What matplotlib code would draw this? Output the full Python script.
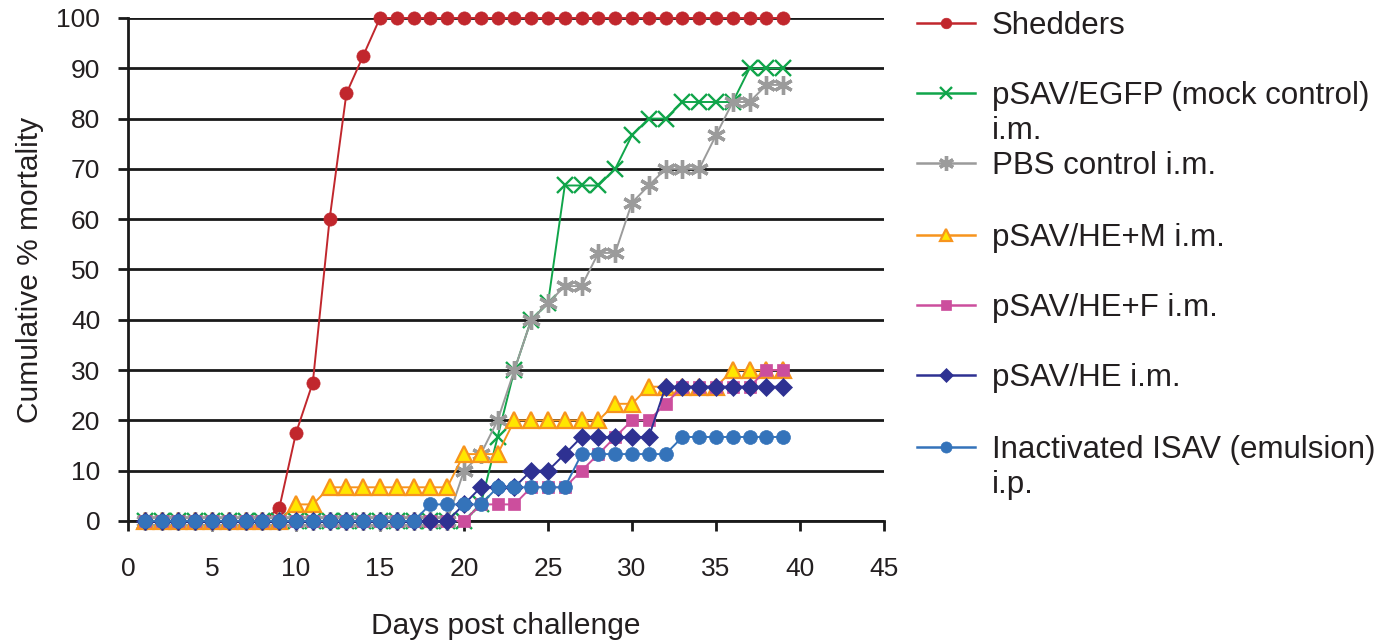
import matplotlib
matplotlib.use("Agg")
import matplotlib.pyplot as plt
from matplotlib.lines import Line2D

plt.rcParams['font.family'] = ['Liberation Sans', 'DejaVu Sans']

days = list(range(1, 40))
labels = ["Shedders", "pSAV/EGFP (mock control)\ni.m.", "PBS control i.m.",
          "pSAV/HE+M i.m.", "pSAV/HE+F i.m.", "pSAV/HE i.m.",
          "Inactivated ISAV (emulsion)\ni.p."]

shedders = [0, 0, 0, 0, 0, 0, 0, 0, 2.5, 17.5, 27.5, 60, 85, 92.5,
            100, 100, 100, 100, 100, 100, 100, 100, 100, 100, 100, 100, 100,
            100, 100, 100, 100, 100, 100, 100, 100, 100, 100, 100, 100]
egfp = [0, 0, 0, 0, 0, 0, 0, 0, 0, 0, 0, 0, 0, 0, 0, 0, 0, 0, 0, 0, 3.3,
        16.7, 30, 40, 43.3, 66.7, 66.7, 66.7, 70, 76.7, 80, 80,
        83.3, 83.3, 83.3, 83.3, 90, 90, 90]
pbs = [0, 0, 0, 0, 0, 0, 0, 0, 0, 0, 0, 0, 0, 0, 0, 0, 0, 0, 0,
       10, 13.3, 20, 30, 40, 43.3, 46.7, 46.7, 53.3, 53.3, 63.3, 66.7,
       70, 70, 70, 76.7, 83.3, 83.3, 86.7, 86.7]
he_m = [0, 0, 0, 0, 0, 0, 0, 0, 0, 3.3, 3.3, 6.7, 6.7, 6.7, 6.7, 6.7, 6.7,
        6.7, 6.7, 13.3, 13.3, 13.3, 20, 20, 20, 20, 20, 20, 23.3, 23.3,
        26.7, 26.7, 26.7, 26.7, 26.7, 30, 30, 30, 30]
he_f = [0, 0, 0, 0, 0, 0, 0, 0, 0, 0, 0, 0, 0, 0, 0, 0, 0, 0, 0, 0,
        3.3, 3.3, 3.3, 6.7, 6.7, 6.7, 10, 13.3, 16.7, 20, 20, 23.3,
        26.7, 26.7, 26.7, 26.7, 26.7, 30, 30]
he = [0, 0, 0, 0, 0, 0, 0, 0, 0, 0, 0, 0, 0, 0, 0, 0, 0, 0, 0,
      3.3, 6.7, 6.7, 6.7, 10, 10, 13.3, 16.7, 16.7, 16.7, 16.7, 16.7,
      26.7, 26.7, 26.7, 26.7, 26.7, 26.7, 26.7, 26.7]
isav = [0, 0, 0, 0, 0, 0, 0, 0, 0, 0, 0, 0, 0, 0, 0, 0, 0,
        3.3, 3.3, 3.3, 3.3, 6.7, 6.7, 6.7, 6.7, 6.7, 13.3, 13.3, 13.3,
        13.3, 13.3, 13.3, 16.7, 16.7, 16.7, 16.7, 16.7, 16.7, 16.7]

series = [shedders, egfp, pbs, he_m, he_f, he, isav]
styles = [
    dict(color='#C1272D', marker='o', ms=9.5, mfc='#C1272D', mec='#C1272D', mew=0.5),
    dict(color='#10A54A', marker='x', ms=11, mfc='#10A54A', mec='#10A54A', mew=1.7),
    dict(color='#9B9B9B', marker=(6, 2, 0), ms=13.5, mfc='#9B9B9B', mec='#9B9B9B', mew=2.4),
    dict(color='#F7941D', marker='^', ms=11, mfc='#FFE600', mec='#F7941D', mew=1.6),
    dict(color='#CC4E9D', marker='s', ms=9, mfc='#CC4E9D', mec='#CC4E9D', mew=0.5),
    dict(color='#2E3192', marker='D', ms=9, mfc='#2E3192', mec='#2E3192', mew=0.5),
    dict(color='#3473BA', marker='o', ms=10, mfc='#3473BA', mec='#3473BA', mew=0.5),
]

TXT = '#231F20'
W, H = 1384, 643
fig = plt.figure(figsize=(W / 100, H / 100), dpi=100)
ax = fig.add_axes([128 / W, 1 - 521 / H, (884 - 128) / W, (521 - 18) / H])

for i, (vals, st) in enumerate(zip(series, styles)):
    ax.plot(days, vals, lw=1.4, clip_on=False, zorder=3 + i, **st)

ax.set_xlim(0, 45)
ax.set_ylim(0, 100)
ax.set_xticks(range(0, 46, 5))
ax.set_yticks(range(0, 101, 10))
ax.yaxis.grid(True, color='#1a1a1a', lw=2.0)
ax.set_axisbelow(True)
for s in ['top', 'right']:
    ax.spines[s].set_visible(False)
for s in ['left', 'bottom']:
    ax.spines[s].set_linewidth(2.0)
    ax.spines[s].set_color('#1a1a1a')
ax.tick_params(axis='both', direction='out', length=7, width=2.0, color='#1a1a1a',
               labelsize=19, labelcolor=TXT)
ax.tick_params(axis='y', pad=13)
ax.tick_params(axis='x', pad=19)
ax.set_xlabel('Days post challenge', fontsize=21.5, color=TXT, labelpad=22)
ax.set_ylabel('Cumulative % mortality', fontsize=21.5, color=TXT, labelpad=9)

# legend (manual, handles aligned with first text line)
ycent = [23, 93, 163, 235, 305, 375, 447]
for yc, lab, st in zip(ycent, labels, styles):
    yf = 1 - yc / H
    line = Line2D([917 / W, 975 / W], [yf, yf], transform=fig.transFigure,
                  color=st['color'], lw=1.8)
    fig.add_artist(line)
    mk = Line2D([946 / W], [yf], transform=fig.transFigure, linestyle='none',
                marker=st['marker'], ms=st['ms'] * 0.8, mfc=st['mfc'],
                mec=st['mec'], mew=st['mew'])
    fig.add_artist(mk)
    for k, part in enumerate(lab.split('\n')):
        fig.text(992 / W, 1 - (yc + 11 + 35 * k) / H, part, fontsize=22.5,
                 color=TXT, va='baseline', ha='left')

fig.savefig('out.png', dpi=100, facecolor='white')
